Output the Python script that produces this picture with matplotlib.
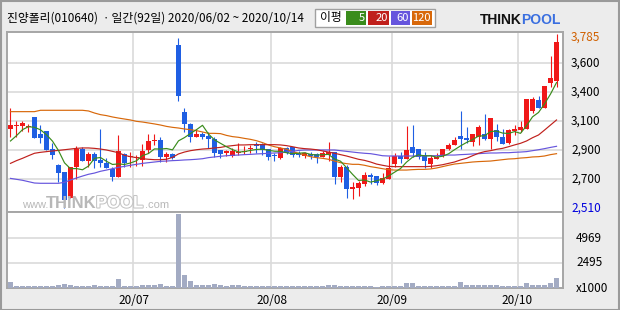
import numpy as np
import matplotlib
matplotlib.use('Agg')
import matplotlib.pyplot as plt
from matplotlib.patches import Rectangle
import matplotlib.patheffects as pe

plt.rcParams['font.family'] = ['Noto Sans CJK KR', 'DejaVu Sans']

# daily candles 2020/06/02 ~ 2020/10/14 (92 trading days)
opens = [3091, 3113, 3113, 3103, 3174, 3050, 3074, 2942, 2825, 2774,
         2586, 2808, 2942, 2857, 2906, 2862, 2840, 2798, 2740, 2903,
         2882, 2876, 2864, 2935, 3001, 3011, 2884, 2906, 3704, 3213,
         3128, 3033, 3052, 3037, 3016, 2935, 2913, 2891, 2913, 2920,
         2942, 2981, 2979, 2942, 2896, 2876, 2947, 2954, 2915, 2893,
         2903, 2903, 2886, 2896, 2920, 2737, 2810, 2649, 2659, 2686,
         2752, 2744, 2696, 2725, 2832, 2891, 2871, 2957, 2942, 2896,
         2832, 2871, 2891, 2942, 2969, 3037, 3023, 2996, 3028, 3052,
         3016, 3084, 3030, 2984, 3077, 3081, 3086, 3221, 3299, 3245,
         3423, 3443]
highs = [3240, 3150, 3150, 3123, 3176, 3118, 3074, 2989, 2832, 2774,
         2810, 2964, 2954, 2920, 2920, 3091, 2876, 2813, 3042, 2915,
         2923, 2896, 2979, 3050, 3050, 3028, 2918, 2915, 3756, 3240,
         3130, 3091, 3067, 3067, 3033, 2935, 2935, 2947, 2984, 2964,
         2972, 2991, 2984, 2942, 2911, 2959, 2959, 2959, 2930, 2920,
         2920, 2915, 2928, 2993, 2920, 2825, 2825, 2703, 2710, 2774,
         2764, 2744, 2764, 2891, 2911, 2920, 3108, 3118, 2942, 2920,
         2896, 2911, 2942, 2989, 3028, 3221, 3101, 3050, 3118, 3199,
         3169, 3126, 3089, 3089, 3121, 3147, 3309, 3323, 3331, 3404,
         3624, 3785]
lows = [3033, 3033, 3077, 3069, 3023, 2984, 2935, 2869, 2700, 2510,
        2586, 2725, 2857, 2808, 2806, 2813, 2801, 2710, 2740, 2813,
        2813, 2818, 2818, 2915, 2974, 2845, 2845, 2871, 3294, 3069,
        2996, 3033, 3018, 2947, 2886, 2879, 2893, 2884, 2901, 2906,
        2911, 2911, 2901, 2862, 2857, 2871, 2906, 2886, 2881, 2876,
        2871, 2842, 2881, 2857, 2688, 2700, 2586, 2576, 2600, 2674,
        2686, 2676, 2688, 2722, 2813, 2842, 2867, 2886, 2871, 2803,
        2803, 2871, 2886, 2935, 2969, 2940, 2989, 2967, 2972, 3008,
        2942, 3003, 2976, 2981, 3045, 3069, 3086, 3208, 3240, 3245,
        3394, 3394]
closes = [3116, 3118, 3133, 3113, 3025, 3025, 2937, 2901, 2769, 2571,
          2810, 2942, 2857, 2906, 2857, 2837, 2803, 2740, 2928, 2837,
          2891, 2886, 2928, 3001, 3011, 2884, 2908, 2876, 3333, 3128,
          3033, 3052, 3033, 3013, 2915, 2908, 2928, 2928, 2923, 2930,
          2952, 2964, 2935, 2886, 2891, 2950, 2911, 2901, 2901, 2911,
          2891, 2884, 2911, 2918, 2740, 2810, 2652, 2666, 2693, 2754,
          2737, 2696, 2732, 2803, 2891, 2871, 2935, 2911, 2886, 2857,
          2876, 2886, 2942, 2972, 3008, 3018, 3008, 3050, 3103, 3018,
          3169, 3028, 2979, 3084, 3089, 3103, 3309, 3306, 3245, 3404,
          3463, 3726]
# volume, x1000 shares
volumes = [600, 230, 220, 230, 200, 220, 230, 240, 280, 400,
           250, 230, 180, 200, 270, 200, 170, 180, 900, 200,
           180, 170, 260, 300, 250, 400, 230, 180, 7350, 1300,
           730, 300, 270, 270, 400, 270, 200, 300, 300, 220,
           200, 180, 180, 200, 170, 200, 170, 170, 150, 150,
           160, 150, 150, 300, 320, 200, 170, 150, 150, 150,
           150, 140, 150, 160, 200, 180, 520, 520, 200, 180,
           170, 170, 180, 180, 200, 600, 300, 270, 270, 270,
           280, 270, 200, 180, 160, 200, 530, 330, 270, 250,
           470, 1000]

# moving averages as drawn on the chart
ma5 = [3001, 3040, 3084, 3106, 3101, 3083, 3047, 3000, 2931, 2841,
       2798, 2799, 2790, 2817, 2874, 2880, 2852, 2829, 2833, 2829,
       2840, 2856, 2894, 2909, 2943, 2942, 2946, 2936, 3002, 3026,
       3056, 3084, 3116, 3052, 3009, 2984, 2959, 2938, 2920, 2923,
       2932, 2939, 2941, 2933, 2926, 2925, 2915, 2908, 2911, 2915,
       2903, 2898, 2900, 2903, 2869, 2853, 2806, 2757, 2712, 2715,
       2700, 2709, 2722, 2744, 2772, 2799, 2846, 2882, 2899, 2892,
       2893, 2883, 2889, 2907, 2937, 2965, 2990, 3011, 3037, 3039,
       3070, 3074, 3059, 3056, 3070, 3057, 3113, 3178, 3210, 3273,
       3345, 3429]
ma20 = [2837, 2857, 2874, 2893, 2911, 2918, 2923, 2928, 2932, 2937,
        2942, 2947, 2950, 2950, 2947, 2942, 2935, 2925, 2915, 2896,
        2886, 2879, 2871, 2867, 2864, 2864, 2867, 2881, 2906, 2920,
        2930, 2937, 2942, 2945, 2950, 2954, 2962, 2967, 2972, 2972,
        2974, 2974, 2974, 2974, 2974, 2972, 2967, 2959, 2950, 2945,
        2942, 2937, 2928, 2920, 2911, 2901, 2891, 2879, 2867, 2859,
        2847, 2832, 2823, 2815, 2813, 2813, 2813, 2813, 2813, 2813,
        2815, 2820, 2827, 2837, 2847, 2862, 2874, 2893, 2911, 2923,
        2930, 2940, 2947, 2959, 2972, 2984, 3001, 3025, 3045, 3081,
        3118, 3155]
ma60 = [2727, 2720, 2713, 2703, 2693, 2691, 2691, 2691, 2691, 2698,
        2715, 2730, 2744, 2757, 2766, 2779, 2788, 2798, 2808, 2815,
        2823, 2830, 2837, 2842, 2847, 2852, 2854, 2857, 2859, 2862,
        2864, 2867, 2871, 2879, 2884, 2889, 2893, 2896, 2898, 2901,
        2903, 2906, 2908, 2911, 2913, 2915, 2920, 2925, 2932, 2935,
        2935, 2935, 2935, 2935, 2935, 2930, 2925, 2920, 2915, 2911,
        2908, 2901, 2893, 2891, 2891, 2891, 2891, 2891, 2891, 2891,
        2893, 2893, 2896, 2898, 2898, 2901, 2903, 2906, 2908, 2911,
        2913, 2913, 2915, 2915, 2918, 2920, 2923, 2930, 2937, 2945,
        2954, 2962]
ma120 = [3216, 3216, 3216, 3216, 3216, 3226, 3226, 3226, 3226, 3226,
         3226, 3226, 3226, 3221, 3206, 3194, 3187, 3177, 3169, 3162,
         3155, 3145, 3140, 3133, 3126, 3118, 3108, 3101, 3096, 3089,
         3084, 3077, 3067, 3057, 3057, 3055, 3042, 3033, 3028, 3020,
         3013, 3003, 2989, 2972, 2959, 2950, 2940, 2923, 2911, 2898,
         2886, 2879, 2874, 2867, 2854, 2842, 2835, 2830, 2830, 2823,
         2813, 2806, 2798, 2791, 2788, 2788, 2788, 2791, 2793, 2793,
         2796, 2803, 2813, 2823, 2832, 2837, 2842, 2847, 2850, 2852,
         2854, 2859, 2864, 2869, 2871, 2876, 2879, 2884, 2886, 2891,
         2901, 2908]

price_ticks = ['3,600', '3,400', '3,100', '2,900', '2,700']
price_max, price_min = 3785, 2510
vol_ticks = [2495, 4969]
month_start = [21, 44, 64, 85]
month_labels = ['20/07', '20/08', '20/09', '20/10']

RED = '#f01818'
BLUE = '#1f5fe3'
C5, C20, C60, C120 = '#3a8c1c', '#c0201c', '#6655dd', '#d8680a'
GRID = '#dadada'
EDGE = '#a6a6a6'

W, H = 620, 310
fig = plt.figure(figsize=(W / 100, H / 100), dpi=100, facecolor='#ececec')


def box(l, t, r, b):
    return [l / W, 1 - b / H, (r - l) / W, (b - t) / H]


def ftext(x, y, s, **kw):
    fig.text(x / W, 1 - y / H, s, **kw)


ax = fig.add_axes(box(7, 32, 563, 212))
axv = fig.add_axes(box(7, 212, 563, 288), sharex=ax)

o = np.array(opens)
c = np.array(closes)
x = np.arange(len(o))
cols = np.where(c >= o, RED, BLUE)

# candles
ax.vlines(x, lows, highs, colors=cols, lw=0.8, zorder=3)
ax.bar(x, np.maximum(np.abs(c - o), 7), bottom=np.minimum(o, c), width=0.68,
       color=cols, linewidth=0, zorder=3)

for ma, col in [(ma120, C120), (ma60, C60), (ma20, C20), (ma5, C5)]:
    ax.plot(x, ma, color=col, lw=0.85, zorder=4)

axv.bar(x, volumes, width=0.68, color='#a3abc3', linewidth=0, zorder=3)

# axes ranges
ax.set_xlim(-0.58, 92.08)
ax.set_ylim(2480.6, 3799.7)
axv.set_ylim(0, 7554)

grid_vals = np.linspace(price_max, price_min, 7)[1:-1]
ax.set_yticks(grid_vals)
axv.set_yticks(vol_ticks)
bounds = [m - 0.5 for m in month_start]
ax.set_xticks(bounds)
for a in (ax, axv):
    a.set_facecolor('white')
    a.grid(True, color=GRID, lw=1.2, zorder=0)
    a.tick_params(length=0, labelleft=False, labelbottom=False)
    for s in a.spines.values():
        s.set_color(EDGE)
        s.set_linewidth(1.4)

# right labels
tr = ax.get_yaxis_transform()
lx = (571 - 7) / 556
for v, s in zip(grid_vals, price_ticks):
    ax.text(lx, v, s, transform=tr, ha='left', va='center', fontsize=8.5, color='black')
ax.annotate('3,785', (lx, price_max), xycoords=tr, xytext=(0, -2), textcoords='offset points',
            ha='left', va='center', fontsize=8.5, color='#d06000', annotation_clip=False)
ax.annotate('2,510', (lx, price_min), xycoords=tr, textcoords='offset points', xytext=(0, 0),
            ha='left', va='center', fontsize=8.5, color='#0000dd', annotation_clip=False)

trv = axv.get_yaxis_transform()
vx = (576 - 7) / 556
for v in vol_ticks:
    axv.text(vx, v, str(v), transform=trv, ha='left', va='center', fontsize=8.5)
axv.text(vx, 0, 'x1000', transform=trv, ha='left', va='center', fontsize=8.5)

trx = axv.get_xaxis_transform()
for b, s in zip(bounds, month_labels):
    axv.text(b, -0.16, s, transform=trx, ha='center', va='center', fontsize=8.5)

# header
ftext(7, 18, '진양폴리(010640) ㆍ일간(92일) 2020/06/02 ~ 2020/10/14',
      ha='left', va='center', fontsize=8.5)
fig.patches.append(Rectangle((315 / W, 1 - 27 / H), 120 / W, 18 / H, transform=fig.transFigure,
                             facecolor='white', edgecolor='#a0a0a0', lw=1))
ftext(320, 18, '이평', ha='left', va='center', fontsize=8.5)
legend_items = [('5', C5, 346, 366), ('20', C20, 368, 389), ('60', C60, 391, 410), ('120', C120, 412, 432)]
for lab, col, l, r in legend_items:
    fig.patches.append(Rectangle((l / W, 1 - 25 / H), (r - l) / W, 14 / H,
                                 transform=fig.transFigure, facecolor=col, edgecolor='none'))
    ftext(r - 1, 18, lab, ha='right', va='center', fontsize=8, color='white')

# logo
ftext(480, 20, 'THINK', ha='left', va='center', fontsize=10, fontweight='bold',
      family='Liberation Sans', color='#111111')
ftext(521, 20, 'POOL', ha='left', va='center', fontsize=10, fontweight='bold',
      family='Liberation Sans', color='#3a6fe0')

# watermark
wm = dict(va='center', family='Liberation Sans', color='#b8b8b8', zorder=1)
ftext(22, 205, 'www.', ha='left', fontsize=8, **wm)
ftext(46, 203, 'THINK', ha='left', fontsize=12, fontweight='bold', **wm)
ftext(96, 203, 'POOL', ha='left', fontsize=12, fontweight='bold', va='center',
      family='Liberation Sans', color='white', zorder=1,
      path_effects=[pe.withStroke(linewidth=1.5, foreground='#c4c4c4')])
ftext(145, 205, '.com', ha='left', fontsize=8, **wm)

fig.patches.append(Rectangle((0.5 / W, 0.5 / H), 1 - 1.5 / W, 1 - 1.5 / H, transform=fig.transFigure,
                             fill=False, edgecolor='#9a9a9a', lw=1.5))

fig.savefig('out.png', dpi=100, facecolor=fig.get_facecolor())
